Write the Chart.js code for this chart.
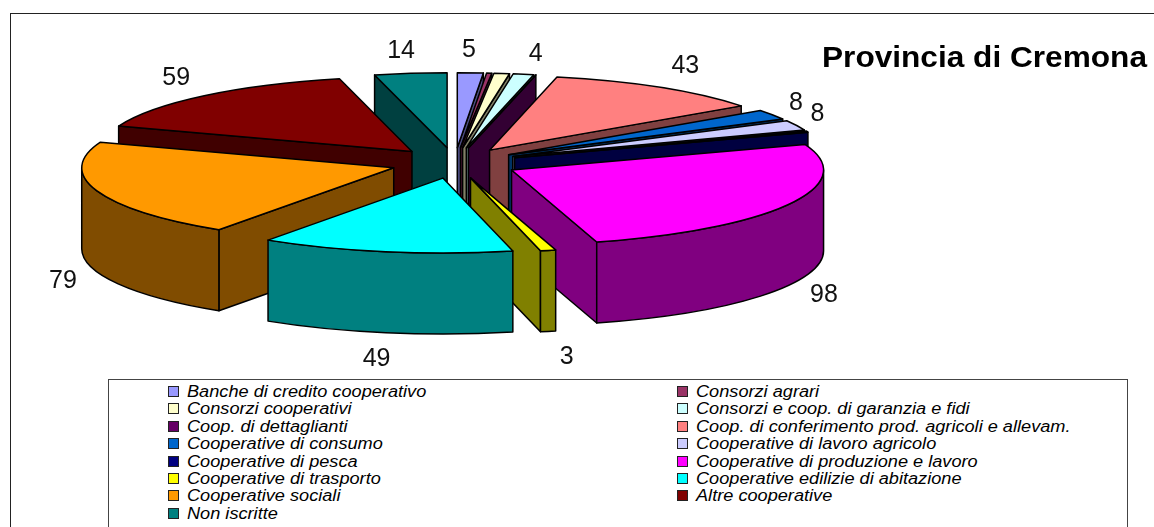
<!DOCTYPE html>
<html lang="it">
<head>
    <meta charset="UTF-8">
    <title>Provincia di Cremona</title>
    <script src="https://cdn.jsdelivr.net/npm/chart.js"></script>
    <style>
        html, body {
            margin: 0;
            padding: 0;
            background: #fff;
            overflow: hidden;
        }
        #wrap {
            position: relative;
            width: 1154px;
            height: 527px;
            overflow: hidden;
            font-family: "Liberation Sans", Arial, sans-serif;
            color: #000;
        }
        #frame {
            position: absolute;
            left: 10px;
            top: 13px;
            width: 1200px;
            height: 600px;
            border: 1px solid #222;
        }
        #pie {
            position: absolute;
            left: 0;
            top: 0;
        }
        #title {
            position: absolute;
            left: 822px;
            top: 41px;
            font-size: 29px;
            font-weight: bold;
            white-space: nowrap;
            transform: scaleX(1.09);
            transform-origin: left center;
        }
        #legend {
            position: absolute;
            left: 108px;
            top: 379px;
            width: 1018px;
            height: 200px;
            border: 1px solid #444;
            background: #fff;
        }
        .item {
            position: absolute;
            font-size: 16px;
            font-style: italic;
            line-height: 17px;
            white-space: nowrap;
        }
        .item span {
            display: inline-block;
            transform: scaleX(1.135);
            transform-origin: left center;
        }
        .item i {
            position: absolute;
            left: -19px;
            top: 3px;
            width: 9px;
            height: 9px;
            border: 1.5px solid #222;
        }
    </style>
</head>
<body>
    <div id="wrap">
        <div id="frame"></div>
        <canvas id="pie" width="1154" height="527"></canvas>
        <div id="title">Provincia di Cremona</div>
        <div id="legend"></div>
    </div>

    <script>
        const categories = [
            'Banche di credito cooperativo', 'Consorzi agrari', 'Consorzi cooperativi',
            'Consorzi e coop. di garanzia e fidi', 'Coop. di dettaglianti',
            'Coop. di conferimento prod. agricoli e allevam.', 'Cooperative di consumo',
            'Cooperative di lavoro agricolo', 'Cooperative di pesca',
            'Cooperative di produzione e lavoro', 'Cooperative di trasporto',
            'Cooperative edilizie di abitazione', 'Cooperative sociali',
            'Altre cooperative', 'Non iscritte'
        ];
        const values = [5, 1, 3, 4, 0, 43, 8, 8, 1, 98, 3, 49, 79, 59, 14];
        const colors = [
            '#9999FF', '#993366', '#FFFFCC', '#CCFFFF', '#660066',
            '#FF8080', '#0066CC', '#CCCCFF', '#000080', '#FF00FF',
            '#FFFF00', '#00FFFF', '#FF9900', '#800000', '#008080'
        ];
        const sideColors = [
            '#4C4C80', '#4C1933', '#808066', '#668080', '#330033',
            '#804040', '#003366', '#666680', '#000040', '#800080',
            '#808000', '#008080', '#804C00', '#400000', '#004040'
        ];
        // slices with a printed value, the others carry no label in the original
        const labelled = [true, false, false, true, false, true, true, true, false, true, true, true, true, true, true];

        // look of the tilted pie
        const centerX = 454.6, centerY = 163;
        const tilt = 0.24;
        const radius = 312;
        const explode = 64;
        const depth = 81;
        const labelRadius = 415;
        // labels were placed by hand in the original
        const labelNudge = {
            0: [-3, -1], 3: [5, 1], 5: [4, -1], 6: [-9, 5], 7: [-14, 5],
            9: [0, 0], 10: [9, 11], 11: [-2, 11], 12: [3, 0], 13: [-2, 1], 14: [-5, -1]
        };

        function drawSides(ctx, arc, i) {
            const mid = (arc.startAngle + arc.endAngle) / 2;
            const ax = centerX + explode * Math.cos(mid);
            const ay = centerY + explode * Math.sin(mid) * tilt;
            const px = a => ax + radius * Math.cos(a);
            const py = a => ay + radius * Math.sin(a) * tilt;

            ctx.fillStyle = sideColors[i];
            // straight cut faces, only those turned to the viewer
            [[arc.startAngle, Math.cos(arc.startAngle) < 0], [arc.endAngle, Math.cos(arc.endAngle) > 0]].forEach(([a, visible]) => {
                if (!visible) return;
                ctx.beginPath();
                ctx.moveTo(ax, ay);
                ctx.lineTo(px(a), py(a));
                ctx.lineTo(px(a), py(a) + depth);
                ctx.lineTo(ax, ay + depth);
                ctx.closePath();
                ctx.fill();
                ctx.stroke();
            });
            // outer rim
            const from = Math.max(arc.startAngle, 0);
            const to = Math.min(arc.endAngle, Math.PI);
            if (to > from) {
                ctx.beginPath();
                ctx.ellipse(ax, ay, radius, radius * tilt, 0, from, to);
                ctx.ellipse(ax, ay + depth, radius, radius * tilt, 0, to, from, true);
                ctx.closePath();
                ctx.fill();
                ctx.stroke();
            }
        }

        function drawTop(ctx, arc) {
            const mid = (arc.startAngle + arc.endAngle) / 2;
            const ax = centerX + explode * Math.cos(mid);
            const ay = centerY + explode * Math.sin(mid) * tilt;

            // fill through the library's arc, squashed
            ctx.save();
            ctx.translate(ax, ay);
            ctx.scale(1, tilt);
            ctx.translate(-arc.x, -arc.y);
            arc.draw(ctx);
            ctx.restore();

            // outline in screen space so the pen stays even
            ctx.beginPath();
            ctx.moveTo(ax, ay);
            ctx.ellipse(ax, ay, radius, radius * tilt, 0, arc.startAngle, arc.endAngle);
            ctx.closePath();
            ctx.stroke();
        }

        const tiltedPie = {
            id: 'tiltedPie',
            beforeDatasetDraw(chart, args) {
                const ctx = chart.ctx;
                const arcs = args.meta.data;
                const order = arcs.map((a, i) => i)
                    .sort((p, q) => Math.sin((arcs[p].startAngle + arcs[p].endAngle) / 2) - Math.sin((arcs[q].startAngle + arcs[q].endAngle) / 2));
                ctx.save();
                ctx.lineWidth = 1.5;
                ctx.strokeStyle = '#000';
                ctx.lineJoin = 'round';
                order.forEach(i => drawSides(ctx, arcs[i], i));
                order.forEach(i => drawTop(ctx, arcs[i]));

                // value labels
                ctx.fillStyle = '#111';
                ctx.font = '25px "Liberation Sans", Arial, sans-serif';
                ctx.textAlign = 'center';
                ctx.textBaseline = 'middle';
                arcs.forEach((arc, i) => {
                    if (!labelled[i]) return;
                    const mid = (arc.startAngle + arc.endAngle) / 2;
                    const s = Math.sin(mid);
                    const nudge = labelNudge[i] || [0, 0];
                    const x = centerX + labelRadius * Math.cos(mid) + nudge[0];
                    const y = centerY + labelRadius * s * tilt + (s > 0 ? depth + 6 : -12) + nudge[1];
                    ctx.fillText(String(values[i]), x, y);
                });
                ctx.restore();
                return false; // everything was painted here
            }
        };

        new Chart(document.getElementById('pie').getContext('2d'), {
            type: 'pie',
            data: {
                labels: categories,
                datasets: [{
                    data: values,
                    backgroundColor: colors,
                    borderWidth: 0,
                    clip: false
                }]
            },
            options: {
                responsive: false,
                animation: false,
                radius: radius,
                events: [],
                plugins: {
                    legend: { display: false },
                    tooltip: { enabled: false }
                }
            },
            plugins: [tiltedPie]
        });

        // legend box, two columns filled row by row
        const legend = document.getElementById('legend');
        categories.forEach((name, i) => {
            const item = document.createElement('div');
            item.className = 'item';
            item.style.left = (i % 2 ? 586.5 : 77.5) + 'px';
            item.style.top = (3 + Math.floor(i / 2) * 17.4) + 'px';
            item.innerHTML = '<i style="background:' + colors[i] + '"></i><span>' + name + '</span>';
            legend.appendChild(item);
        });
    </script>
</body>
</html>
